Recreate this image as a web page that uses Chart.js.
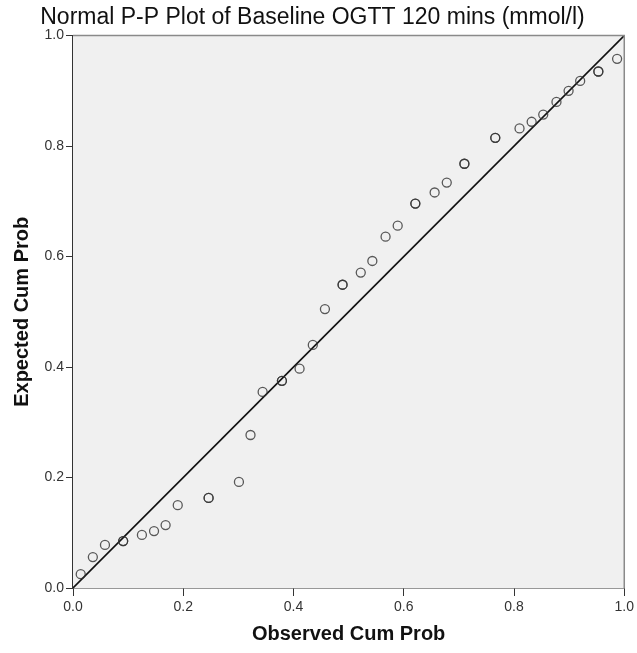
<!DOCTYPE html>
<html>
<head>
<meta charset="utf-8">
<script src="https://cdn.jsdelivr.net/npm/chart.js@4"></script>
<style>
  body { margin: 0; background: #fff; }
</style>
</head>
<body>
<canvas id="ppCanvas" width="637" height="653"></canvas>
<script>
// observed vs expected cumulative probability
var obsCum = [0.014, 0.036, 0.058, 0.091, 0.125, 0.147, 0.168, 0.190, 0.246, 0.301,
              0.322, 0.344, 0.379, 0.411, 0.435, 0.457, 0.489, 0.522, 0.543, 0.567,
              0.589, 0.621, 0.656, 0.678, 0.710, 0.766, 0.810, 0.832, 0.853, 0.877,
              0.899, 0.920, 0.953, 0.987];
var expCum = [0.025, 0.056, 0.078, 0.085, 0.096, 0.103, 0.114, 0.150, 0.163, 0.192,
              0.277, 0.355, 0.375, 0.397, 0.440, 0.505, 0.549, 0.571, 0.592, 0.636,
              0.656, 0.696, 0.716, 0.734, 0.768, 0.815, 0.832, 0.844, 0.857, 0.880,
              0.900, 0.918, 0.935, 0.958];
// cases sitting on the same spot (drawn on top of each other)
var counts = [1, 1, 1, 2, 1, 1, 1, 1, 2, 1,
              1, 1, 2, 1, 1, 1, 2, 1, 1, 1,
              1, 2, 1, 1, 2, 2, 1, 1, 1, 1,
              1, 1, 2, 1];
var tickVals = [0, 0.2, 0.4, 0.6, 0.8, 1.0];

var pts = [];
for (var i = 0; i < obsCum.length; i++) {
	for (var k = 0; k < counts[i]; k++) {
		pts.push({x: obsCum[i], y: expCum[i]});
	}
}

var plotBg = {
	id: 'plotBg',
	beforeDatasetsDraw: function(chart) {
		var a = chart.chartArea, c = chart.ctx;
		c.save();
		c.fillStyle = '#f0f0f0';
		c.fillRect(a.left, a.top, a.right - a.left, a.bottom - a.top);
		c.restore();
	},
	afterDatasetsDraw: function(chart) {
		var a = chart.chartArea, c = chart.ctx;
		c.save();
		c.strokeStyle = '#8a8a8a';
		c.lineWidth = 1.5;
		c.beginPath();
		c.moveTo(a.left, a.top);
		c.lineTo(a.right, a.top);
		c.lineTo(a.right, a.bottom);
		c.stroke();
		c.restore();
	}
};

var axisFont = {family: 'Liberation Sans, Arial, sans-serif', size: 20, weight: 'bold'};
var tickFont = {family: 'Liberation Sans, Arial, sans-serif', size: 14};

new Chart(document.getElementById('ppCanvas'), {
	type: 'scatter',
	data: {
		datasets: [
			{
				label: 'cases',
				data: pts,
				pointRadius: 4.5,
				pointHoverRadius: 4.5,
				pointBorderWidth: 1.3,
				pointBorderColor: 'rgba(50,50,50,0.8)',
				pointBackgroundColor: 'rgba(0,0,0,0)'
			},
			{
				type: 'line',
				label: 'reference',
				data: [{x: 0, y: 0}, {x: 1, y: 1}],
				borderColor: '#111',
				borderWidth: 1.6,
				pointRadius: 0,
				fill: false
			}
		]
	},
	plugins: [plotBg],
	options: {
		responsive: false,
		animation: false,
		layout: {padding: {left: 0, right: 12, top: 0, bottom: 0}},
		plugins: {
			legend: {display: false},
			tooltip: {enabled: false},
			title: {
				display: true,
				text: 'Normal P-P Plot of Baseline OGTT 120 mins (mmol/l)',
				color: '#111',
				font: {family: 'Liberation Sans, Arial, sans-serif', size: 23, weight: 'normal'},
				padding: {top: 4, bottom: 4}
			}
		},
		scales: {
			x: {
				type: 'linear',
				min: 0,
				max: 1,
				afterFit: function(s) { s.height = 65; },
				afterBuildTicks: function(s) { s.ticks = tickVals.map(function(v){ return {value: v}; }); },
				ticks: {
					color: '#333',
					font: tickFont,
					padding: 3,
					maxRotation: 0,
					callback: function(v) { return Number(v).toFixed(1); }
				},
				grid: {drawOnChartArea: false, tickLength: 8, color: '#333'},
				border: {color: '#333', width: 1.5},
				title: {
					display: true,
					text: 'Observed Cum Prob',
					color: '#111',
					font: axisFont,
					padding: {top: 0, bottom: 7}
				}
			},
			y: {
				type: 'linear',
				min: 0,
				max: 1,
				afterFit: function(s) { s.width = 73; },
				afterBuildTicks: function(s) { s.ticks = tickVals.map(function(v){ return {value: v}; }); },
				ticks: {
					color: '#333',
					font: tickFont,
					padding: 2,
					callback: function(v) { return Number(v).toFixed(1); }
				},
				grid: {drawOnChartArea: false, tickLength: 7, color: '#333'},
				border: {color: '#333', width: 1.5},
				title: {
					display: true,
					text: 'Expected Cum Prob',
					color: '#111',
					font: axisFont,
					padding: {top: 10, bottom: 0}
				}
			}
		}
	}
});
</script>
</body>
</html>
